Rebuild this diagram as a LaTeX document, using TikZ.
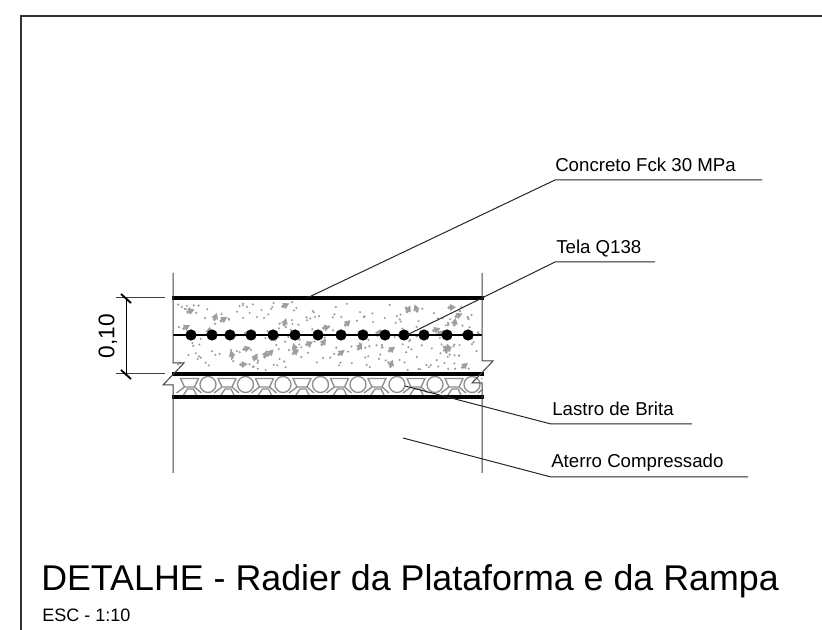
\documentclass[tikz,border=0pt]{standalone}
\usepackage{fontspec}
\setmainfont{Liberation Sans}
\usetikzlibrary{positioning,calc}
\definecolor{speck}{gray}{0.62}
\definecolor{stone}{gray}{0.55}
\tikzset{slab/.style={line width=2.6pt, black},
wall/.style={line width=0.75pt, black!75},
leader/.style={line width=0.75pt, black!85},
tag/.style={anchor=base west, inner sep=0pt, font=\fontsize{14pt}{16pt}\selectfont},
grain/.style={fill=speck, draw=none},
gravel/.style={draw=stone, line width=1pt}
}

\begin{document}
\begin{tikzpicture}[x=0.75pt, y=-0.75pt]
    \useasboundingbox (0,0) rectangle (822,630);
    % Frame
    \draw [line width=0.8pt, black!80] (21,630) -- (21,16) -- (822,16);
    % Concrete specks
    \pgfmathsetseed{4711}
    \foreach \i in {1,...,240} {
      \pgfmathsetmacro{\px}{177+rnd*302}
      \pgfmathsetmacro{\py}{302+rnd*68}
      \fill [grain] (\px,\py) circle (1.2);
    }
    \foreach \i in {1,...,34} {
      \pgfmathsetmacro{\px}{181+rnd*294}
      \pgfmathsetmacro{\py}{305+rnd*62}
      \pgfmathsetmacro{\pa}{rnd*120}
      \fill [grain] ($(\px,\py)+(\pa:4)$) -- ($(\px,\py)+(\pa+120:4)$) -- ($(\px,\py)+(\pa+240:4)$) -- cycle;
      \fill [grain] ($(\px,\py)+(\pa+60:3)$) circle (1.8);
    }
    % Gravel
    \begin{scope}
      \clip (173,376) rectangle (482,396);
      \foreach \cx in {170.5,208,245.5,283,320.5,358,397,435,472} {
        \draw [gravel] (\cx+10,378.5) -- (\cx+28,378.5) -- (\cx+24,387) -- (\cx+14,387) -- cycle;
        \draw [gravel] (\cx+13,395) -- (\cx+17,389) -- (\cx+23,389) -- (\cx+26,395);
        \draw [gravel] (\cx+6,393) -- (\cx+14,387);
        \draw [gravel] (\cx+24,387) -- (\cx+31,393);
      }
      \foreach \cx in {208,245.5,283,320.5,358,397,435,472} {
        \draw [gravel, fill=white] (\cx,384.5) circle (8);
      }
    \end{scope}
    % Layers
    \draw [slab] (172,298) -- (484,298);
    \draw [slab] (172,374) -- (484,374);
    \draw [slab] (172,397) -- (484,397);
    \draw [line width=1.5pt, black] (173,335) -- (482,335);
    \foreach \bx in {191,212,230,251,273,295,318,341,363,385,404,424,447,468} {
      \fill [black] (\bx,335) circle (5.6);
    }
    % Walls with break marks
    \draw [wall] (173,273) -- (173,363) -- (184,363) -- (163,385) -- (173,385) -- (173,473);
    \draw [wall] (482,273) -- (482,361) -- (493,361) -- (472,383) -- (482,383) -- (482,473);
    % Dimension
    \draw [wall] (116,298) -- (165,298);
    \draw [wall] (116,374) -- (165,374);
    \coordinate (dimtop) at (126,298);
    \coordinate (dimbot) at (126,374);
    \draw [line width=0.75pt] (dimtop) -- (dimbot);
    \draw [line width=1.4pt] (121,294) -- (131,303);
    \draw [line width=1.4pt] (121,370) -- (131,379);
    \node [inner sep=0pt, rotate=90, font=\fontsize{17pt}{18pt}\selectfont] (dimtext) at (108,336) {0,10};
    % Labels
    \node [tag] (concreto) at (555,172) {Concreto Fck 30 MPa};
    \node [tag] (tela) at (556,254) {Tela Q138};
    \node [tag] (lastro) at (552,416) {Lastro de Brita};
    \node [tag] (aterro) at (551,468) {Aterro Compressado};
    \node [anchor=base west, inner sep=0pt, font=\fontsize{26.85pt}{30pt}\selectfont] (title) at (41,591) {DETALHE - Radier da Plataforma e da Rampa};
    \node [tag, font=\fontsize{13.5pt}{16pt}\selectfont] (scale) at (42,622) {ESC - 1:10};
    % Leaders
    \coordinate (concretotip) at (307,298);
    \coordinate (concretobend) at (555,180);
    \coordinate (concretoend) at (762,180);
    \coordinate (telatip) at (407,335);
    \coordinate (telabend) at (555,262);
    \coordinate (telaend) at (655,262);
    \coordinate (lastrotip) at (405,386);
    \coordinate (lastrobend) at (551,424);
    \coordinate (lastroend) at (692,424);
    \coordinate (aterrotip) at (403,438);
    \coordinate (aterrobend) at (551,477);
    \coordinate (aterroend) at (748,477);
    \draw [leader] (concretotip) -- (concretobend) -- (concretoend);
    \draw [leader] (telatip) -- (telabend) -- (telaend);
    \draw [leader] (lastrotip) -- (lastrobend) -- (lastroend);
    \draw [leader] (aterrotip) -- (aterrobend) -- (aterroend);
\end{tikzpicture}
\end{document}
